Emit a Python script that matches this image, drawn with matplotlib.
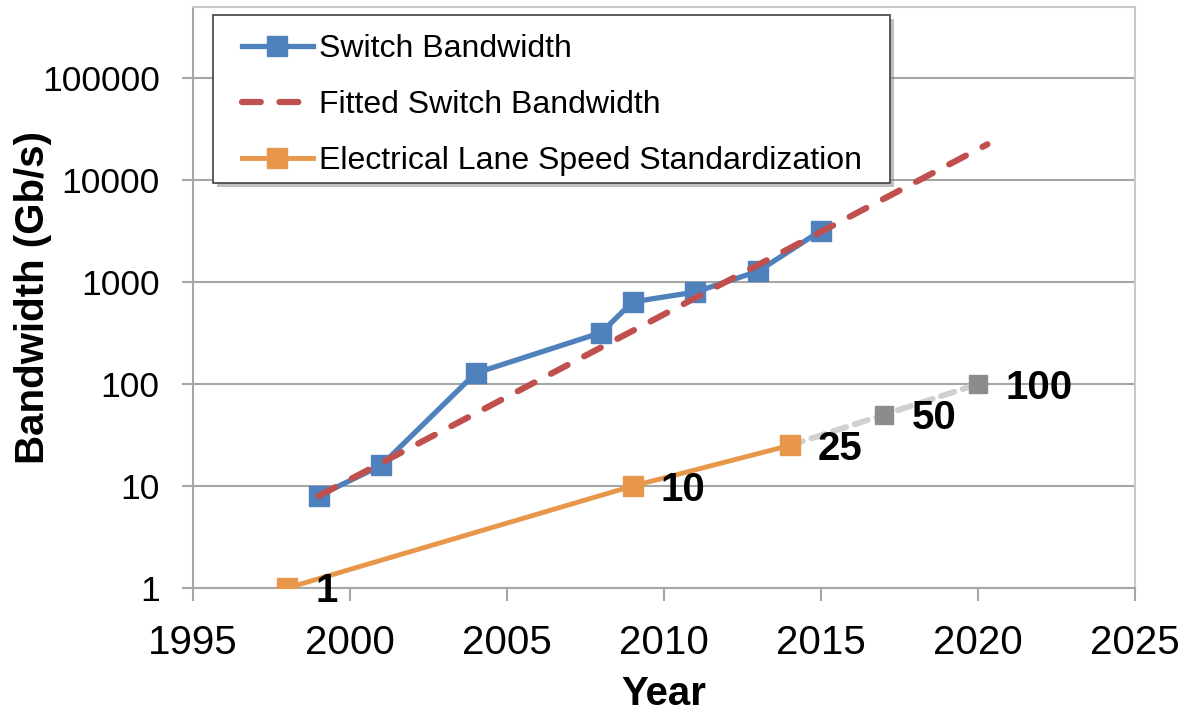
"""plot.py - switch bandwidth vs electrical lane speed, log scale."""

import matplotlib

matplotlib.use("Agg")
import matplotlib.pyplot as plt
import matplotlib.transforms as mtransforms
from matplotlib.patches import Rectangle
from matplotlib.ticker import FixedLocator, FixedFormatter, NullLocator

plt.rcParams["font.family"] = ["Liberation Sans", "DejaVu Sans"]

# switch bandwidth (Gb/s)
SWITCH_YEARS = [1999, 2001, 2004, 2008, 2009, 2011, 2013, 2015]
SWITCH_BW = [8, 16, 128, 320, 640, 800, 1280, 3200]

# fitted exponential trend (straight on log axis), endpoints
FIT_YEARS = [1999, 2020.3]
FIT_BW = [8, 22500]

# electrical lane speed standardization
LANE_YEARS = [1998, 2009, 2014]
LANE_SPEED = [1, 10, 25]

# projected lane speeds (grey, dashed)
PROJ_YEARS = [2014, 2017, 2020]
PROJ_SPEED = [25, 50, 100]

X_TICKS = [1995, 2000, 2005, 2010, 2015, 2020, 2025]
Y_TICKS = [1, 10, 100, 1000, 10000, 100000]
Y_TICK_LABELS = ["1", "10", "100", "1000", "10000", "100000"]

BLUE = "#4F81BD"
RED = "#C0504D"
ORANGE = "#E8974A"
GREY_MARK = "#8C8C8C"
GREY_LINE = "#D0D0D0"
GRID = "#A6A6A6"

fig = plt.figure(figsize=(11.85, 7.14), dpi=100)
ax = fig.add_axes([0.1629, 0.1765, 0.7949, 0.8137])

ax.set_yscale("log")
ax.set_xlim(1995, 2025)
ax.set_ylim(1, 5e5)

# projection first so the orange marker sits on top
ax.plot(PROJ_YEARS, PROJ_SPEED, color=GREY_LINE, lw=4.2, dashes=(2.4, 1.5),
        dash_capstyle="round", zorder=3)
ax.plot(PROJ_YEARS[1:], PROJ_SPEED[1:], ls="none", marker="s", ms=13,
        color=GREY_MARK, zorder=4)

ax.plot(SWITCH_YEARS, SWITCH_BW, color=BLUE, lw=3.8, marker="s", ms=15,
        label="Switch Bandwidth", zorder=5)
ax.plot(LANE_YEARS, LANE_SPEED, color=ORANGE, lw=3.5, marker="s", ms=15,
        label="Electrical Lane Speed Standardization", zorder=5)
ax.plot(FIT_YEARS, FIT_BW, color=RED, lw=4.5, dashes=(3, 3),
        dash_capstyle="round", label="Fitted Switch Bandwidth", zorder=6)

# value labels next to the lane-speed markers
for yr, v in zip(LANE_YEARS + PROJ_YEARS[1:], LANE_SPEED + PROJ_SPEED[1:]):
    ax.annotate(str(v), (yr, v), xytext=(20, -2.5), textcoords="offset points",
                ha="left", va="center", fontsize=29, fontweight="bold", zorder=7)

# axes cosmetics
ax.yaxis.set_major_locator(FixedLocator(Y_TICKS))
ax.yaxis.set_major_formatter(FixedFormatter(Y_TICK_LABELS))
ax.yaxis.set_minor_locator(NullLocator())
ax.set_xticks(X_TICKS)
ax.grid(axis="y", color=GRID, lw=1.5)
ax.set_axisbelow(True)
for side in ("left", "bottom"):
    ax.spines[side].set_color(GRID)
    ax.spines[side].set_linewidth(1.5)
for side in ("top", "right"):
    ax.spines[side].set_color("#C8C8C8")
    ax.spines[side].set_linewidth(1.5)
ax.tick_params(axis="x", length=9, width=1.5, color=GRID, labelsize=29, pad=17)
ax.tick_params(axis="y", length=8, width=1.5, color=GRID, labelsize=25.5, pad=16)

ax.set_xlabel("Year", fontsize=29, fontweight="bold", labelpad=9)
ax.set_ylabel("Bandwidth (Gb/s)", fontsize=29, fontweight="bold", labelpad=-7)

# legend box drawn by hand: it has wider side padding than top/bottom
box = (0.0212, 0.697, 0.7187, 0.289)  # x, y, w, h in axes fraction
shadow_tr = ax.transAxes + mtransforms.ScaledTranslation(3 / 72, -3 / 72,
                                                         fig.dpi_scale_trans)
ax.add_patch(Rectangle(box[:2], box[2], box[3], transform=shadow_tr,
                       facecolor="0.55", edgecolor="none", alpha=0.55,
                       zorder=8))
ax.add_patch(Rectangle(box[:2], box[2], box[3], transform=ax.transAxes,
                       facecolor="white", edgecolor="#404040", lw=1.2,
                       zorder=9))

# legend order: switch, fitted, lane
h, l = ax.get_legend_handles_labels()
order = [0, 2, 1]
leg = ax.legend([h[i] for i in order], [l[i] for i in order],
                loc="upper left", bbox_to_anchor=(0.052, 0.9527),
                borderaxespad=0, borderpad=0, fontsize=23, frameon=False,
                handlelength=2.22, handletextpad=0.19, labelspacing=0.81)
leg.set_zorder(10)

fig.savefig("out.png", dpi=100)
